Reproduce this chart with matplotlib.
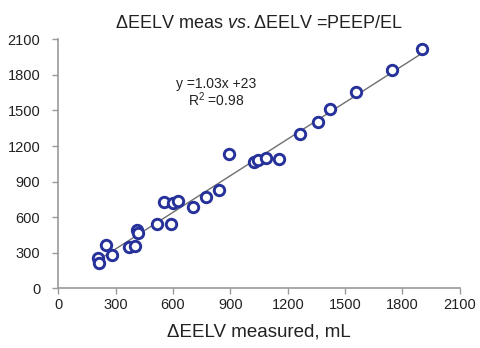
import matplotlib
matplotlib.use("Agg")
import matplotlib.pyplot as plt
import numpy as np

plt.rcParams["font.family"] = ["Liberation Sans", "DejaVu Sans"]
plt.rcParams["mathtext.fontset"] = "custom"
plt.rcParams["mathtext.rm"] = "Liberation Sans"
plt.rcParams["mathtext.it"] = "Liberation Sans:italic"

# measured vs computed (PEEP/EL) EELV change, mL
eelv_measured = [206, 214, 249, 282, 369, 402, 413, 415, 514, 587, 554, 598, 625,
                 705, 775, 841, 893, 1022, 1045, 1088, 1153, 1264, 1357, 1421,
                 1559, 1743, 1904]
eelv_peep_el = [256, 211, 365, 281, 351, 359, 492, 464, 540, 540, 728, 717, 739,
                688, 773, 829, 1130, 1068, 1082, 1096, 1093, 1299, 1405, 1510,
                1658, 1841, 2016]
slope, intercept = 1.03, 23
ticks = [0, 300, 600, 900, 1200, 1500, 1800, 2100]

fig = plt.figure(figsize=(4.8, 3.48), dpi=100)
ax = fig.add_axes([0.1215, 0.1716, 0.8365, 0.7154])

xs = np.array([min(eelv_measured), max(eelv_measured)])
ax.plot(xs, slope * xs + intercept, color="#6e6e6e", lw=1.0, zorder=1)
ax.plot(eelv_measured, eelv_peep_el, "o", ms=7.5, mfc="white", mec="#26329a",
        mew=2.1, zorder=2)

ax.set_xlim(0, 2100)
ax.set_ylim(0, 2100)
ax.set_xticks(ticks)
ax.set_yticks(ticks)
for s in ["top", "right"]:
    ax.spines[s].set_visible(False)
for s in ["left", "bottom"]:
    ax.spines[s].set_color("#9a9a9a")
    ax.spines[s].set_linewidth(1.2)
ax.tick_params(colors="#9a9a9a", labelcolor="#222222", labelsize=10.5,
               length=4, width=1.0, direction="out")
ax.tick_params(axis="x", pad=3)
ax.tick_params(axis="y", pad=9)

ax.text(0.393, 0.803, "y =1.03x +23", transform=ax.transAxes, ha="center",
        fontsize=10, color="#222222")
ax.text(0.393, 0.734, "R$^2$ =0.98", transform=ax.transAxes, ha="center",
        fontsize=10, color="#222222")

ax.set_title(r"ΔEELV meas $\it{vs.}$ΔEELV =PEEP/EL", fontsize=13,
             color="#222222", pad=8)
ax.set_xlabel("ΔEELV measured, mL", fontsize=13.5, color="#222222", labelpad=8)

fig.savefig("out.png", dpi=100)
